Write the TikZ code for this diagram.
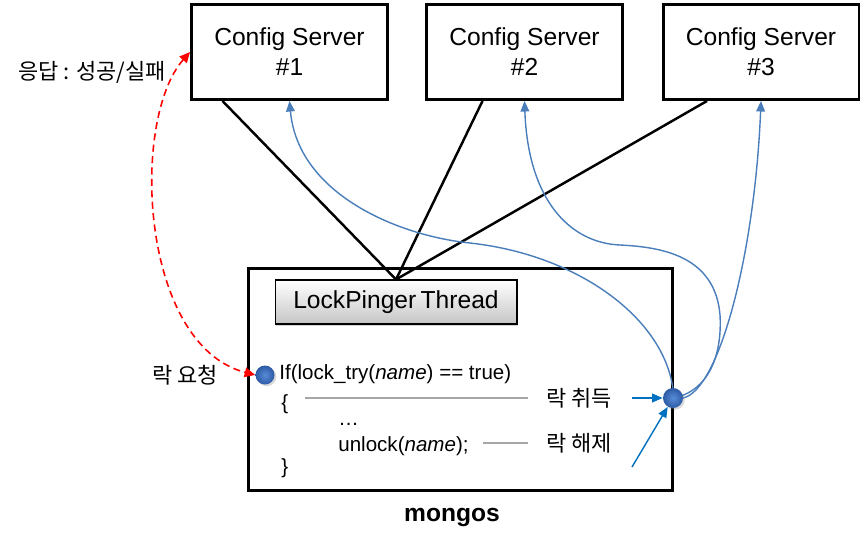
\documentclass[tikz,border=0pt]{standalone}
\usepackage{fontspec}
\setmainfont{Liberation Sans}
\newfontfamily\krfont{Noto Sans CJK KR}
\usetikzlibrary{arrows.meta,shadows}

\definecolor{linkblue}{RGB}{74,126,187}
\definecolor{pointblue}{RGB}{0,112,192}
\definecolor{dotlight}{RGB}{88,140,215}
\definecolor{dotdark}{RGB}{45,90,165}

\begin{document}
\begin{tikzpicture}[x=0.02cm,y=-0.02cm,
		server/.style={draw,line width=1.7pt,minimum width=3.92cm,minimum height=1.9cm,align=center,font=\fontsize{14}{17}\selectfont},
		hostbox/.style={draw,line width=1.7pt,minimum width=8.48cm,minimum height=4.44cm},
		thread/.style={draw,line width=0.6pt,minimum width=4.84cm,minimum height=0.88cm,top color=white,bottom color=gray!45,drop shadow={opacity=0.35,shadow xshift=0.5pt,shadow yshift=-1pt},font=\fontsize{14}{17}\selectfont},
		code/.style={anchor=west,inner sep=0pt,font=\fontsize{11.7}{14}\selectfont},
		krlabel/.style={font=\krfont\fontsize{12.5}{14}\selectfont},
		dot/.style={circle,inner sep=0pt,inner color=dotlight,outer color=dotdark,drop shadow={opacity=0.3,shadow xshift=1pt,shadow yshift=-1pt}},
		link/.style={draw=black,line width=1.4pt},
		ping/.style={draw=linkblue,line width=0.8pt,-{Triangle[length=6pt,width=5pt]}},
		request/.style={draw=red,line width=0.9pt,dash pattern=on 4pt off 2.5pt,{Triangle[length=6pt,width=5.5pt]}-{Triangle[length=6pt,width=5.5pt]}},
		codeline/.style={draw=gray!70,line width=0.8pt},
		pointer/.style={draw=pointblue,line width=0.8pt,-{Triangle[length=6pt,width=5pt]}}]
	\useasboundingbox (0,0) rectangle (864,544);

	% config servers
	\foreach \i/\x in {1/289.5,2/524.5,3/761}{
			\node [server] (cs-\i) at (\x,52) {Config Server\\\#\i};
		}

	\node [hostbox] (mongos) at (460.5,379.5) {};
	\node [font=\bfseries\fontsize{14}{17}\selectfont] (mongos-label) at (452,517) {mongos};
	\node [thread] (lp) at (396,302) {LockPinger\hspace{-0.1em} Thread};

	\draw [link] ([shift={(-67,0)}]cs-1.south) -- (lp.north);
	\draw [link] ([shift={(-42,0)}]cs-2.south) -- (lp.north);
	\draw [link] ([shift={(-54,0)}]cs-3.south) -- (lp.north);

	% lock code
	\node [code] (code-if) at (279,374) {If(lock\_try(\textit{name}) == true)};
	\node [code] (code-open) at (281,404) {\{};
	\node [code] (code-dots) at (338,424) {…};
	\node [code] (code-unlock) at (338,446) {unlock(\textit{name});};
	\node [code] (code-close) at (281,468) {\}};

	\node [krlabel] (get) at (579,398) {락 취득};
	\node [krlabel] (free) at (579,443) {락 해제};
	\node [krlabel] (ask) at (185,375) {락 요청};
	\node [krlabel] (reply) at (92,72) {응답 : 성공/실패};

	\draw [codeline] ([shift={(-12,0)}]get.west) -- ++(-223,0);
	\draw [codeline] ([shift={(-12,0)}]free.west) -- ++(-45,0);

	% pings from the lock holder
	\coordinate (rd) at (673,398);
	\draw [ping] ([shift={(0,-8)}]rd) .. controls (665,320) and (580,255) .. (470,243)
		.. controls (400,236) and (298,195) .. (cs-1.south);
	\draw [ping] ([shift={(8,-2)}]rd) .. controls (712,385) and (722,350) .. (720,315)
		.. controls (715,255) and (660,247) .. (620,245)
		.. controls (570,243) and (528,200) .. (cs-2.south);
	\draw [ping] ([shift={(10,0)}]rd) .. controls (720,390) and (755,250) .. (cs-3.south);

	\node [dot,minimum width=0.32cm,minimum height=0.38cm] (ldot) at (265,375) {};
	\node [dot,minimum size=0.4cm] (rdot) at (rd) {};

	\draw [request] (cs-1.west) .. controls (130,120) and (140,345) .. (ldot.west);

	\coordinate (get-tail) at (632,398);
	\coordinate (free-tail) at (632,467);
	\draw [pointer] (get-tail) -- (rdot);
	\draw [pointer] (free-tail) -- (rdot);
\end{tikzpicture}
\end{document}
